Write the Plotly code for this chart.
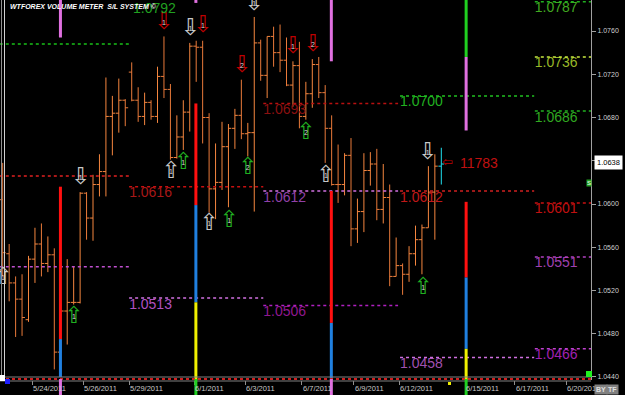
import plotly.graph_objects as go

# ---------------- data ----------------
bar_open = [1.0604, 1.0554, 1.0527, 1.0512, 1.0493, 1.0549, 1.0563, 1.0545, 1.0553, 1.0463,
            1.0501, 1.0509, 1.0509, 1.0610, 1.0587, 1.0618, 1.0630, 1.0681, 1.0684, 1.0696,
            1.0722, 1.0696, 1.0681, 1.0694, 1.0681, 1.0718, 1.0706, 1.0643, 1.0662, 1.0685,
            1.0746, 1.0745, 1.0680, 1.0614, 1.0620, 1.0653, 1.0670, 1.0682, 1.0665, 1.0666,
            1.0749, 1.0719, 1.0755, 1.0740, 1.0733, 1.0710, 1.0728, 1.0681, 1.0702, 1.0729,
            1.0703, 1.0670, 1.0618, 1.0618, 1.0645, 1.0577, 1.0593, 1.0631, 1.0637, 1.0595,
            1.0606, 1.0533, 1.0543, 1.0535, 1.0554, 1.0567, 1.0578, 1.0611, 1.0635]
bar_high = [1.0638, 1.0563, 1.0533, 1.0535, 1.0552, 1.0578, 1.0582, 1.0570, 1.0559, 1.0511,
            1.0549, 1.0542, 1.0611, 1.0611, 1.0627, 1.0646, 1.0717, 1.0700, 1.0716, 1.0697,
            1.0731, 1.0708, 1.0703, 1.0696, 1.0727, 1.0755, 1.0711, 1.0682, 1.0696, 1.0749,
            1.0751, 1.0751, 1.0684, 1.0656, 1.0676, 1.0674, 1.0688, 1.0715, 1.0675, 1.0773,
            1.0752, 1.0755, 1.0764, 1.0766, 1.0754, 1.0732, 1.0750, 1.0713, 1.0734, 1.0736,
            1.0710, 1.0682, 1.0655, 1.0647, 1.0661, 1.0605, 1.0647, 1.0648, 1.0651, 1.0637,
            1.0618, 1.0569, 1.0545, 1.0561, 1.0580, 1.0581, 1.0635, 1.0646, 1.0652]
bar_low = [1.0533, 1.0510, 1.0477, 1.0478, 1.0491, 1.0527, 1.0533, 1.0537, 1.0447, 1.0462,
           1.0470, 1.0507, 1.0508, 1.0567, 1.0566, 1.0607, 1.0607, 1.0645, 1.0666, 1.0672,
           1.0695, 1.0676, 1.0673, 1.0678, 1.0675, 1.0698, 1.0641, 1.0642, 1.0650, 1.0667,
           1.0713, 1.0656, 1.0592, 1.0586, 1.0613, 1.0597, 1.0651, 1.0660, 1.0644, 1.0593,
           1.0714, 1.0698, 1.0727, 1.0722, 1.0709, 1.0690, 1.0670, 1.0678, 1.0689, 1.0698,
           1.0638, 1.0617, 1.0601, 1.0608, 1.0561, 1.0564, 1.0574, 1.0617, 1.0585, 1.0582,
           1.0524, 1.0533, 1.0516, 1.0528, 1.0543, 1.0535, 1.0578, 1.0567, 1.0618]
bar_close = [1.0555, 1.0527, 1.0512, 1.0495, 1.0549, 1.0563, 1.0545, 1.0553, 1.0463, 1.0501,
             1.0509, 1.0509, 1.0610, 1.0587, 1.0618, 1.0630, 1.0681, 1.0684, 1.0696, 1.0689,
             1.0696, 1.0681, 1.0694, 1.0681, 1.0718, 1.0706, 1.0643, 1.0662, 1.0685, 1.0746,
             1.0745, 1.0680, 1.0614, 1.0620, 1.0653, 1.0670, 1.0682, 1.0665, 1.0666, 1.0749,
             1.0719, 1.0755, 1.0740, 1.0733, 1.0710, 1.0728, 1.0681, 1.0702, 1.0729, 1.0703,
             1.0670, 1.0618, 1.0618, 1.0645, 1.0577, 1.0593, 1.0631, 1.0637, 1.0595, 1.0606,
             1.0533, 1.0543, 1.0535, 1.0554, 1.0567, 1.0578, 1.0611, 1.0635, 1.0637]

date_labels = ["5/24/2011", "5/26/2011", "5/29/2011", "6/1/2011", "6/3/2011", "6/7/2011",
               "6/9/2011", "6/12/2011", "6/15/2011", "6/17/2011", "6/20/2011"]
date_pos = [4.6, 12.5, 19.6, 29.7, 37.6, 46.4, 54.4, 61.5, 71.7, 79.4, 87.4]

price_ticks = [1.0440, 1.0480, 1.0520, 1.0560, 1.0600, 1.0640, 1.0680, 1.0720, 1.0760]
last_price = 1.0638

# S/L level segments
seg_start = [-0.45, 19.6, 40.4, 61.6, 82.5]
seg_end = [19.7, 40.4, 61.3, 82.4, 91.3]
level_seg = [0, 0, 0, 1, 1, 1, 2, 2, 2, 3, 3, 3, 4, 4, 4, 4, 4, 4]
level_price = [1.0748, 1.0626, 1.0542,
               1.0792, 1.0616, 1.0513,
               1.0693, 1.0612, 1.0506,
               1.0700, 1.0612, 1.0458,
               1.0787, 1.0736, 1.0686, 1.0601, 1.0551, 1.0466]
level_label = ["", "", "",
               "1.0792", "1.0616", "1.0513",
               "1.0693", "1.0612", "1.0506",
               "1.0700", "1.0612", "1.0458",
               "1.0787", "1.0736", "1.0686", "1.0601", "1.0551", "1.0466"]
level_line_color = ["#18c018", "#e02020", "#c050d0",
                    "#18b018", "#c81010", "#d070e0",
                    "#b81010", "#d070e0", "#b020c0",
                    "#20c020", "#d02020", "#d070e0",
                    "#20b020", "#c8e840", "#20b020", "#c81010", "#b040c0", "#c040d0"]
level_text_color = ["#18c018", "#e02020", "#c050d0",
                    "#20a020", "#a81818", "#b050c0",
                    "#8a1010", "#9040a8", "#901890",
                    "#20b020", "#c01818", "#a050b0",
                    "#40a820", "#98b828", "#30a820", "#c01010", "#a040b0", "#a020b0"]

# volume meter columns
meter_x = [8.95, 29.95, 50.95, 71.85]
meter_idx = [0, 0, 0, 1, 1, 1, 1, 2, 2, 2, 3, 3, 3, 3, 3]
meter_lo = [1.0754, 1.0475, 1.0440, 1.0786, 1.0599, 1.0509, 1.0437, 1.0732, 1.0490, 1.0437,
            1.0736, 1.0668, 1.0532, 1.0466, 1.0437]
meter_hi = [1.0800, 1.0616, 1.0475, 1.0800, 1.0693, 1.0599, 1.0509, 1.0800, 1.0612, 1.0490,
            1.0800, 1.0736, 1.0602, 1.0532, 1.0466]
meter_color = ["#e070e0", "#ff1010", "#2080e0", "#e070e0", "#ff1010", "#2080e0", "#f0f000",
               "#e070e0", "#ff1010", "#2080e0",
               "#20d020", "#e070e0", "#ff1010", "#2080e0", "#f0f000"]

# signal arrows
arrow_bar = [25.0, 29.1, 31.05, 39.0, 37.1, 45.0, 48.1, 12.1, 26.1, 28.0, 32.0, 35.1, 38.0,
             47.0, 50.1, 65.9, 0.05, 11.05, 65.2]
arrow_price = [1.0767, 1.0762, 1.0764, 1.0785, 1.0727, 1.0745, 1.0747, 1.0624, 1.0629, 1.0638,
               1.0581, 1.0584, 1.0633, 1.0665, 1.0626, 1.0647, 1.0531, 1.0495, 1.0522]
arrow_dir = ["down", "down", "down", "down", "down", "down", "down", "down", "up", "up", "up",
             "up", "up", "up", "up", "down", "up", "up", "up"]
arrow_num = ["1", "1", "1", "1", "2", "1", "2", "1", "1", "1", "1", "1", "2", "2", "1", "1",
             "1", "1", "1"]
arrow_kind = ["red", "gray", "red", "gray", "red", "red", "red", "gray", "gray", "green", "gray",
              "green", "green", "green", "gray", "gray", "gray", "green", "green"]

volume_text = "11783"

# ---------------- figure ----------------
PW, PH = 591, 380
Y0, Y1 = 1.04372, 1.07887
X0, X1 = -0.42, 91.21


def pxx(px):
    return px / PW


def pxy(py):
    return (PH - py) / PH


fig = go.Figure()
annotations = []

# level labels first (bars drawn over them)
lab_x, lab_y, lab_t, lab_c = [], [], [], []
for s, p, t, c in zip(level_seg, level_price, level_label, level_text_color):
    if not t:
        continue
    if p > Y1:
        # level above the visible range: label pinned to the top edge
        annotations.append(dict(x=seg_start[s], y=1, xref="x", yref="paper", text=t,
                                showarrow=False, xanchor="left", yanchor="top", xshift=2,
                                yshift=2,
                                font=dict(size=14, family="Liberation Sans", color=c)))
        continue
    lab_x.append(seg_start[s])
    lab_y.append(p)
    lab_t.append(t)
    lab_c.append(c)
fig.add_trace(go.Scatter(x=lab_x, y=lab_y, mode="text", text=lab_t, textposition="bottom right",
                         textfont=dict(size=14, family="Liberation Sans", color=lab_c),
                         cliponaxis=False, hoverinfo="skip"))

# level lines
for s, p, c in zip(level_seg, level_price, level_line_color):
    fig.add_trace(go.Scatter(x=[seg_start[s], seg_end[s]], y=[p, p], mode="lines",
                             line=dict(color=c, width=1.5, dash="dot"), hoverinfo="skip"))

# price bars
n = len(bar_open) - 1
fig.add_trace(go.Ohlc(x=list(range(n)), open=bar_open[:n], high=bar_high[:n], low=bar_low[:n],
                      close=bar_close[:n], tickwidth=0.45,
                      increasing=dict(line=dict(color="#f5863f", width=1)),
                      decreasing=dict(line=dict(color="#e97a3a", width=1)),
                      hoverinfo="skip"))
# current bar (cyan)
cx = n
fig.add_trace(go.Scatter(x=[cx, cx, None, cx - 0.45, cx, None, cx, cx + 0.45],
                         y=[bar_low[n], bar_high[n], None, bar_open[n], bar_open[n], None,
                            bar_close[n], bar_close[n]],
                         mode="lines", line=dict(color="#20e0f0", width=1), hoverinfo="skip"))

# volume meter columns
for mi, lo, hi, c in zip(meter_idx, meter_lo, meter_hi, meter_color):
    fig.add_trace(go.Scatter(x=[meter_x[mi], meter_x[mi]], y=[lo, hi], mode="lines",
                             line=dict(color=c, width=3), hoverinfo="skip"))

# arrows
acol = {"red": "#c00000", "gray": "#c8c8c8", "green": "#20b020"}
fig.add_trace(go.Scatter(x=arrow_bar, y=arrow_price, mode="text",
                         text=["\u21e9" if d == "down" else "\u21e7" for d in arrow_dir],
                         textposition="middle center",
                         textfont=dict(size=23, family="DejaVu Sans",
                                       color=[acol[k] for k in arrow_kind]),
                         cliponaxis=False, hoverinfo="skip"))
fig.add_trace(go.Scatter(x=arrow_bar, y=arrow_price, mode="text", text=arrow_num,
                         textposition="middle center",
                         textfont=dict(size=7, family="Liberation Sans", color="#d8d8d8"),
                         cliponaxis=False, hoverinfo="skip"))

# volume pointer
fig.add_trace(go.Scatter(x=[n + 1], y=[last_price], mode="text", text=["\u21e6"],
                         textposition="middle center",
                         textfont=dict(size=13, family="DejaVu Sans", color="#c00000"),
                         cliponaxis=False, hoverinfo="skip"))

annotations.append(dict(x=n + 1, y=last_price, xref="x", yref="y", text=volume_text,
                        showarrow=False, xanchor="left", yanchor="middle", xshift=10,
                        font=dict(size=14, family="Liberation Sans", color="#c01010")))
for pos, lab in zip(date_pos, date_labels):
    annotations.append(dict(x=pos, y=pxy(388), xref="x", yref="paper", text=lab,
                            showarrow=False, xanchor="left", yanchor="middle", xshift=-1,
                            font=dict(size=7.5, family="Liberation Sans", color="#c8c8c8")))
annotations.append(dict(x=pxx(8), y=1, xref="paper", yref="paper",
                        text="<b><i>WTFOREX VOLUME METER \u00a0S/L SYSTEM \u00a9</i></b>",
                        showarrow=False, xanchor="left", yanchor="top", yshift=-1,
                        font=dict(size=7, family="Liberation Sans", color="#ffffff")))
annotations.append(dict(x=1, y=last_price, xref="paper", yref="y", text="1.0638",
                        showarrow=False, xanchor="left", yanchor="middle", xshift=3,
                        bgcolor="#ffffff", borderpad=2,
                        font=dict(size=7.5, family="Liberation Sans", color="#000000")))
annotations.append(dict(x=pxx(589), y=pxy(183), xref="paper", yref="paper", text="S",
                        showarrow=False, xanchor="center", yanchor="middle",
                        bgcolor="#20a020", borderpad=0,
                        font=dict(size=6, family="Liberation Sans", color="#ffffff")))
annotations.append(dict(x=pxx(594), y=pxy(389), xref="paper", yref="paper", text="<b>BY</b>",
                        showarrow=False, xanchor="left", yanchor="middle",
                        bgcolor="#808080", borderpad=1,
                        font=dict(size=7, family="Liberation Sans", color="#e0e0e0")))
annotations.append(dict(x=pxx(606), y=pxy(389), xref="paper", yref="paper", text="<b>TF</b>",
                        showarrow=False, xanchor="left", yanchor="middle",
                        bgcolor="#808080", borderpad=1,
                        font=dict(size=7, family="Liberation Sans", color="#e0e0e0")))

shapes = []
# left border
shapes.append(dict(type="line", xref="paper", yref="paper", x0=pxx(1.5), x1=pxx(1.5), y0=0, y1=1,
                   line=dict(color="#909090", width=1)))
shapes.append(dict(type="line", xref="paper", yref="paper", x0=pxx(4.5), x1=pxx(4.5), y0=0, y1=1,
                   line=dict(color="#d0d0d0", width=1)))
# bottom strip
shapes.append(dict(type="line", xref="paper", yref="paper", x0=0, x1=1, y0=pxy(377), y1=pxy(377),
                   line=dict(color="#808080", width=1)))
shapes.append(dict(type="line", xref="paper", yref="paper", x0=0, x1=1, y0=pxy(379), y1=pxy(379),
                   line=dict(color="#d02020", width=2, dash="dot")))
shapes.append(dict(type="line", xref="paper", yref="paper", x0=0, x1=1, y0=pxy(381), y1=pxy(381),
                   line=dict(color="#808080", width=1)))
# below-axis meter stubs
stub_color = ["#e070e0", "#20d020", "#e070e0", "#20d020"]
for mx, c in zip(meter_x, stub_color):
    shapes.append(dict(type="line", xref="x", yref="paper", x0=mx, x1=mx, y0=pxy(395),
                       y1=pxy(379), line=dict(color=c, width=3)))
# corner squares
shapes.append(dict(type="rect", xref="paper", yref="paper", x0=pxx(0), x1=pxx(5), y0=pxy(381),
                   y1=pxy(375), fillcolor="#ffffff", line=dict(width=0)))
shapes.append(dict(type="rect", xref="paper", yref="paper", x0=pxx(5), x1=pxx(10), y0=pxy(384),
                   y1=pxy(379), fillcolor="#2020ff", line=dict(width=0)))
shapes.append(dict(type="rect", xref="paper", yref="paper", x0=pxx(586), x1=pxx(592),
                   y0=pxy(377), y1=pxy(371), fillcolor="#20f020", line=dict(width=0)))
shapes.append(dict(type="rect", xref="paper", yref="paper", x0=pxx(448), x1=pxx(451),
                   y0=pxy(385), y1=pxy(382), fillcolor="#f0f000", line=dict(width=0)))

fig.update_layout(
    width=625, height=395,
    margin=dict(l=0, r=34, t=0, b=15),
    paper_bgcolor="#000000", plot_bgcolor="#000000",
    showlegend=False,
    hovermode=False,
    xaxis=dict(range=[X0, X1], showgrid=False, zeroline=False, showline=False,
               rangeslider=dict(visible=False), tickvals=date_pos,
               ticktext=[""] * len(date_pos), ticks="outside", ticklen=4,
               tickcolor="#909090", fixedrange=True),
    yaxis=dict(range=[Y0, Y1], side="right", showgrid=False, zeroline=False, showline=True,
               linecolor="#a0a0a0", linewidth=1, ticks="outside", ticklen=4,
               tickcolor="#a0a0a0", tickvals=price_ticks, tickformat=".4f",
               tickfont=dict(size=7, family="Liberation Sans", color="#d0d0d0"),
               fixedrange=True),
    annotations=annotations,
    shapes=shapes,
)

fig.write_html("out.html", config={"displayModeBar": False})
